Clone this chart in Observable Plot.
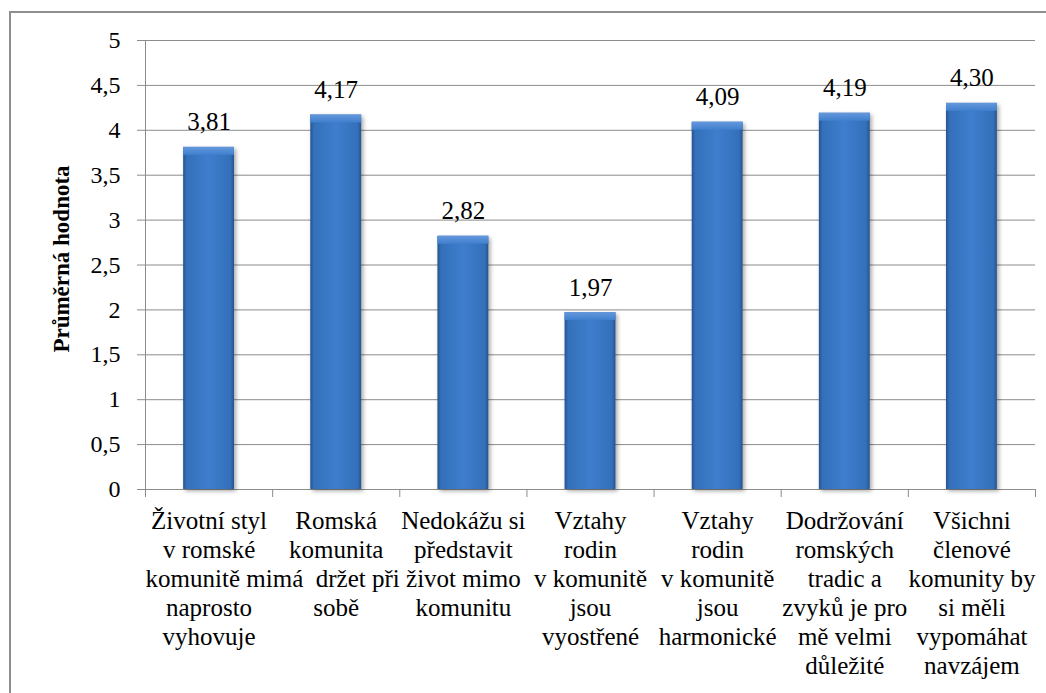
<!DOCTYPE html>
<html>
<head>
<meta charset="utf-8">
<script src="https://cdn.jsdelivr.net/npm/d3@7"></script>
<script src="https://cdn.jsdelivr.net/npm/@observablehq/plot@0.6"></script>
<style>
  body { margin: 0; background: #fff; }
  #wrap { position: relative; width: 1046px; height: 693px; overflow: hidden; background: #fff; }
  #frame { position: absolute; left: 9px; top: 11px; width: 1100px; height: 800px;
           border-left: 2px solid #8e8e8e; border-top: 2px solid #8e8e8e; }
  #chart { position: absolute; left: 0; top: 0; }
</style>
</head>
<body>
<div id="wrap"><div id="frame"></div><div id="chart"></div></div>
<script>
// Categories (full statements)
const categories = [
  "Životní styl v romské komunitě mi naprosto vyhovuje",
  "Romská komunita má držet při sobě",
  "Nedokážu si představit život mimo komunitu",
  "Vztahy rodin v komunitě jsou vyostřené",
  "Vztahy rodin v komunitě jsou harmonické",
  "Dodržování romských tradic a zvyků je pro mě velmi důležité",
  "Všichni členové komunity by si měli vypomáhat navzájem"
];
// Category tick labels, wrapped as in the reference
const tickLabels = [
  "Životní styl\nv romské\nkomunitě mi\nnaprosto\nvyhovuje",
  "Romská\nkomunita\nmá  držet při\nsobě",
  "Nedokážu si\npředstavit\nživot mimo\nkomunitu",
  "Vztahy\nrodin\nv komunitě\njsou\nvyostřené",
  "Vztahy\nrodin\nv komunitě\njsou\nharmonické",
  "Dodržování\nromských\ntradic a\nzvyků je pro\nmě velmi\ndůležité",
  "Všichni\nčlenové\nkomunity by\nsi měli\nvypomáhat\nnavzájem"
];
// Mean values
const values = [3.81, 4.17, 2.82, 1.97, 4.09, 4.19, 4.30];
// Y axis ticks
const yTicks = [0, 0.5, 1, 1.5, 2, 2.5, 3, 3.5, 4, 4.5, 5];
const yLabel = "Průměrná hodnota";

const data = categories.map((c, i) => ({i, category: c, label: tickLabels[i], value: values[i]}));
const bounds = d3.range(categories.length + 1);
const comma = (v, d) => (d == null ? String(v) : v.toFixed(d)).replace(".", ",");

const FONT = "Liberation Serif";
const grid = "#8c8c8c";

const chart = Plot.plot({
  width: 1046,
  height: 693,
  marginTop: 40,
  marginBottom: 204,
  marginLeft: 145,
  marginRight: 11,
  style: {fontFamily: FONT, fontSize: "24px", color: "#000", background: "transparent", overflow: "visible"},
  x: {type: "linear", domain: [0, categories.length], axis: null},
  y: {domain: [0, 5], axis: null},
  marks: [
    Plot.ruleY(yTicks, {stroke: grid, strokeWidth: 1}),
    Plot.ruleX([0], {stroke: grid, strokeWidth: 1}),
    Plot.axisY(yTicks, {
      tickSize: 8, tickPadding: 17, stroke: grid, fill: "#000",
      tickFormat: d => comma(d), label: null, fontSize: 24, fontFamily: FONT
    }),
    Plot.axisX(bounds, {tickSize: 8, stroke: grid, tickFormat: () => "", label: null}),
    Plot.rect(data, {
      x1: d => d.i + 0.3, x2: d => d.i + 0.7, y1: 0, y2: "value",
      fill: "url(#barGrad)", className: "bars"
    }),
    Plot.rect(data, {
      x1: d => d.i + 0.3, x2: d => d.i + 0.7, y1: "value", y2: "value",
      insetBottom: -8, fill: "url(#bevelGrad)"
    }),
    Plot.text(data, {
      x: d => d.i + 0.5, y: "value", text: d => comma(d.value, 2),
      dy: -25, fontSize: 25, fontFamily: FONT, fill: "#000"
    }),
    Plot.text(data, {
      x: d => d.i + 0.5, y: 0, text: "label",
      lineAnchor: "top", dy: 19, lineHeight: 1.16, fontSize: 25, fontFamily: FONT, fill: "#000"
    }),
    Plot.text([yLabel], {
      frameAnchor: "left", textAnchor: "middle", lineAnchor: "middle", rotate: -90, dx: -84, dy: -6,
      fontSize: 23, fontWeight: "bold", fontFamily: FONT, fill: "#000"
    })
  ]
});

const svg = d3.select(chart);
const defs = svg.insert("defs", ":first-child");
const g1 = defs.append("linearGradient").attr("id", "barGrad").attr("x1", 0).attr("x2", 1).attr("y1", 0).attr("y2", 0);
[[0, "#24548f"], [0.07, "#3470ba"], [0.5, "#3e7ecd"], [0.93, "#3470ba"], [1, "#24548f"]]
  .forEach(([o, c]) => g1.append("stop").attr("offset", o).attr("stop-color", c));
const g2 = defs.append("linearGradient").attr("id", "bevelGrad").attr("x1", 0).attr("x2", 0).attr("y1", 0).attr("y2", 1);
[[0, "#6598dc"], [1, "#3f7fce"]]
  .forEach(([o, c]) => g2.append("stop").attr("offset", o).attr("stop-color", c));
svg.selectAll(".bars").style("filter", "drop-shadow(2px 2px 2px rgba(0,0,0,0.35))");

document.getElementById("chart").appendChild(chart);
</script>
</body>
</html>
